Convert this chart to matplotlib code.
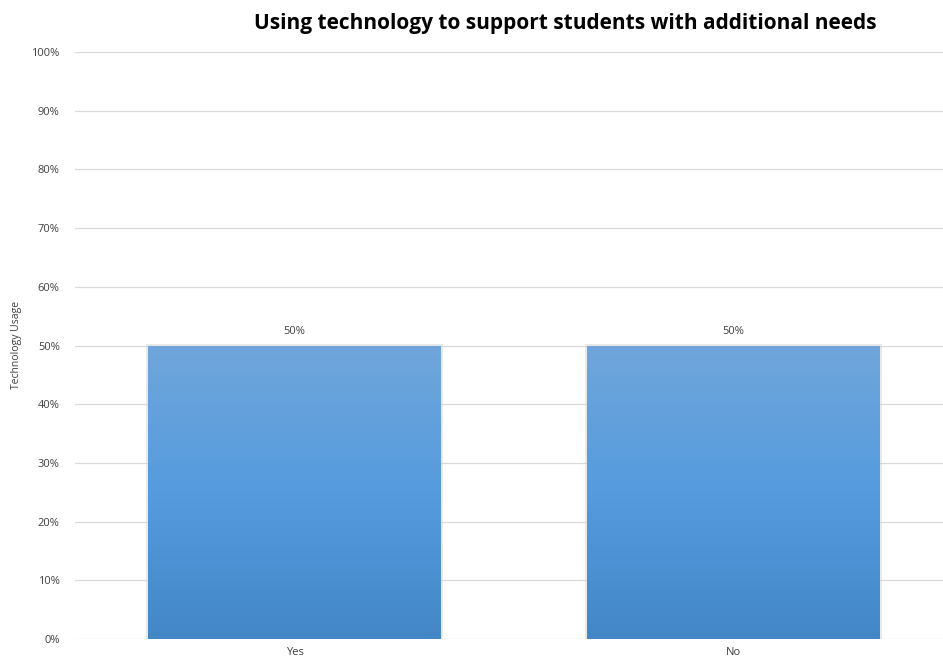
import numpy as np
import matplotlib
matplotlib.use('Agg')
import matplotlib.pyplot as plt
from matplotlib.colors import LinearSegmentedColormap
from matplotlib.ticker import PercentFormatter

categories = ['Yes', 'No']
values = [50, 50]
title = 'Using technology to support students with additional needs'
ylabel = 'Technology Usage'

plt.rcParams['font.family'] = ['Open Sans', 'DejaVu Sans']

fig = plt.figure(figsize=(9.43, 6.64), dpi=100)
ax = fig.add_axes([75 / 943, 1 - 639 / 664, 878 / 943, 587 / 664])

x = np.arange(len(categories))
bars = ax.bar(x, values, width=0.667, color='#5A9BDB', edgecolor='none', zorder=2)

# vertical gradient clipped to each bar
cmap = LinearSegmentedColormap.from_list('blu', ['#4387C7', '#559BDE', '#70A6DB'])
grad = np.linspace(0, 1, 256).reshape(-1, 1)
for b in bars:
    x0, y0 = b.get_x(), b.get_y()
    w, h = b.get_width(), b.get_height()
    # soft shadow
    ax.bar(x0 + w / 2, h + 0.3, width=w + 0.008, color='#d0d0d0', alpha=0.45, zorder=1.5)
    im = ax.imshow(grad, cmap=cmap, origin='lower', aspect='auto',
                   extent=[x0, x0 + w, y0, y0 + h], zorder=2.5)
    im.set_clip_path(b)
    ax.text(x0 + w / 2, h + 1.5, f'{h:.0f}%', ha='center', va='bottom',
            fontsize=8, color='#404040')

ax.set_xlim(-0.5, len(categories) - 0.5)
ax.set_ylim(0, 100)
ax.set_yticks(np.arange(0, 101, 10))
ax.yaxis.set_major_formatter(PercentFormatter(decimals=0))
ax.set_xticks(x)
ax.set_xticklabels(categories)
ax.tick_params(axis='both', length=0, labelsize=8, colors='#404040')
ax.tick_params(axis='y', pad=11)
ax.tick_params(axis='x', pad=6)
ax.grid(axis='y', color='#d9d9d9', linewidth=0.9, zorder=0)
ax.set_axisbelow(True)
for s in ax.spines.values():
    s.set_visible(False)

fig.text(17 / 943, 1 - 345 / 664, ylabel, rotation=90, ha='center', va='center',
         fontsize=7.5, color='#404040')
fig.text(565 / 943, 1 - 24 / 664, title, ha='center', va='center',
         fontsize=15, fontweight='bold', color='#000000')

fig.savefig('out.png', dpi=100)
